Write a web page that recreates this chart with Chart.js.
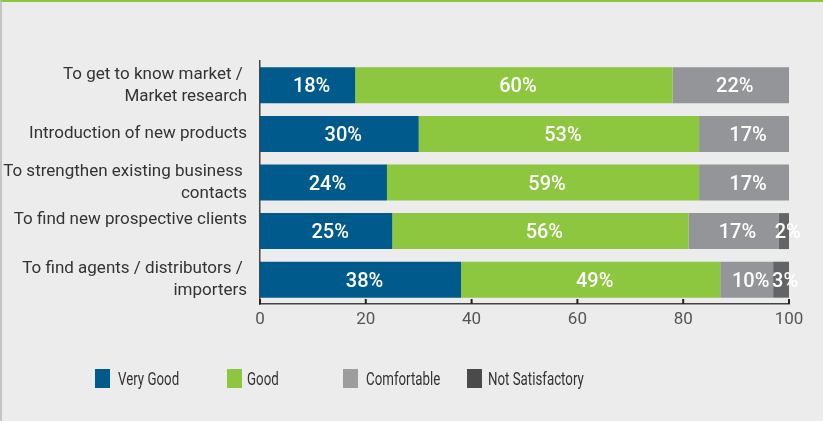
<!DOCTYPE html>
<html>
<head>
<meta charset="utf-8">
<script src="https://cdn.jsdelivr.net/npm/chart.js@4"></script>
<style>
  html, body { margin: 0; padding: 0; }
  body {
    width: 823px; height: 421px; overflow: hidden;
    background: #ebeceb; position: relative;
    font-family: Roboto, sans-serif;
  }
  #frame {
    position: absolute; left: 0; top: 0; width: 821px; height: 419px;
    border-top: 2px solid #8dc63f; border-left: 2px solid #c4c4c4;
  }
  #wrap { position: absolute; left: 0; top: 0; width: 823px; height: 421px; }
  .leg { position: absolute; top: 369px; height: 19px; }
  .leg span { position: absolute; left: 0; top: 0; width: 15px; height: 19px; }
  .leg div {
    position: absolute; top: -1px; font-size: 19px; line-height: 21px; color: #333;
    white-space: nowrap; transform: scaleX(0.7); transform-origin: left center;
  }
</style>
</head>
<body>
<div id="frame"></div>
<div id="wrap"><canvas id="chart" width="823" height="421"></canvas></div>
<div id="legend"></div>
<script>
// Categories and series (percent)
const categories = [
    ['To get to know market / ', 'Market research'],
    'Introduction of new products',
    ['To strengthen existing business ', 'contacts'],
    ['To find new prospective clients', ''],
    ['To find agents / distributors / ', 'importers']
];
const veryGood = [18, 30, 24, 25, 38];
const good = [60, 53, 59, 56, 49];
const comfortable = [22, 17, 17, 17, 10];
const notSatisfactory = [0, 0, 0, 2, 3];
const xTicks = [0, 20, 40, 60, 80, 100];

const seriesNames = ['Very Good', 'Good', 'Comfortable', 'Not Satisfactory'];
const barColors = ['#005a8c', '#8dc63f', '#939598', '#636466'];
const legendColors = ['#005a8c', '#8dc63f', '#9d9d9e', '#4a4a4a'];
const legendX = [95, 227, 343, 467];
const legendTextX = [23, 20, 23, 21];

// Labels drawn in the middle of each segment
const segmentLabels = {
    id: 'segmentLabels',
    afterDatasetsDraw(chart) {
        const ctx = chart.ctx;
        ctx.save();
        ctx.fillStyle = '#ffffff';
        ctx.font = '500 20px Roboto, sans-serif';
        ctx.textAlign = 'center';
        ctx.textBaseline = 'middle';
        chart.data.datasets.forEach((ds, i) => {
            chart.getDatasetMeta(i).data.forEach((bar, j) => {
                const v = ds.data[j];
                if (!v) return;
                ctx.fillText(v + '%', (bar.x + bar.base) / 2 + 4, bar.y + 2);
            });
        });
        ctx.restore();
    }
};

// Short tick marks pointing up from the x axis
const innerTicks = {
    id: 'innerTicks',
    afterDraw(chart) {
        const ctx = chart.ctx;
        const x = chart.scales.x;
        const y0 = chart.chartArea.bottom;
        ctx.save();
        ctx.strokeStyle = '#222';
        ctx.lineWidth = 2;
        xTicks.forEach(v => {
            const px = x.getPixelForValue(v);
            ctx.beginPath();
            ctx.moveTo(px, y0);
            ctx.lineTo(px, y0 - 5);
            ctx.stroke();
        });
        ctx.restore();
    }
};

new Chart(document.getElementById('chart'), {
    type: 'bar',
    data: {
        labels: categories,
        datasets: [veryGood, good, comfortable, notSatisfactory].map((d, i) => ({
            label: seriesNames[i],
            data: d,
            backgroundColor: barColors[i],
            borderWidth: 0,
            barPercentage: 0.74,
            categoryPercentage: 1
        }))
    },
    options: {
        indexAxis: 'y',
        responsive: false,
        animation: false,
        layout: { padding: { top: 61, right: 34, bottom: 87, left: 0 } },
        plugins: { legend: { display: false }, tooltip: { enabled: false } },
        scales: {
            x: {
                stacked: true,
                min: 0, max: 100,
                afterBuildTicks(scale) { scale.ticks = xTicks.map(v => ({ value: v })); },
                afterFit(scale) { scale.height = 30; },
                grid: { display: false, tickLength: 4 },
                border: { display: true, color: '#444', width: 1.5 },
                ticks: { color: '#555', font: { size: 17, family: 'Roboto, sans-serif' }, padding: 2 }
            },
            y: {
                stacked: true,
                afterFit(scale) { scale.width = 260; },
                grid: { display: false, tickLength: 0 },
                border: { display: true, color: '#444', width: 1.5 },
                ticks: { color: '#333', font: { size: 17, family: 'Roboto, sans-serif', lineHeight: 1.3 }, padding: 13 }
            }
        }
    },
    plugins: [segmentLabels, innerTicks]
});

// Legend below the chart
const legend = document.getElementById('legend');
seriesNames.forEach((name, i) => {
    const item = document.createElement('div');
    item.className = 'leg';
    item.style.left = legendX[i] + 'px';
    item.innerHTML = '<span style="background:' + legendColors[i] + '"></span>' +
        '<div style="left:' + legendTextX[i] + 'px">' + name + '</div>';
    legend.appendChild(item);
});
</script>
</body>
</html>
